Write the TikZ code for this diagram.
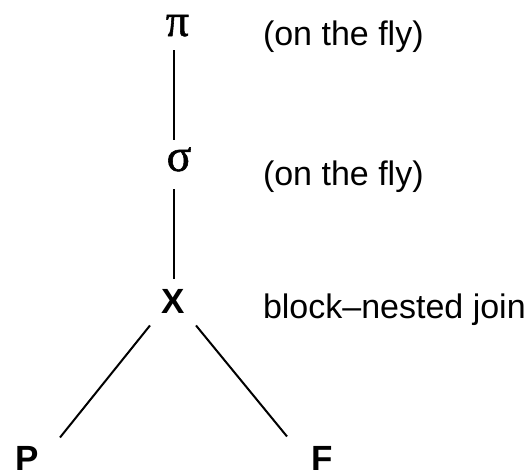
\documentclass[tikz,border=0pt]{standalone}
\usepackage{fontspec}
\setmainfont{Liberation Sans}
\newfontfamily\greekfont[FakeBold=1.2]{Liberation Serif}
\begin{document}
\begin{tikzpicture}[x=1pt,y=-1pt,
  greek/.style={inner sep=0pt, outer sep=0pt, anchor=base, font=\greekfont\fontsize{46}{46}\selectfont},
  rel/.style={inner sep=0pt, outer sep=0pt, anchor=base, font=\bfseries\fontsize{35}{35}\selectfont},
  note/.style={inner sep=0pt, outer sep=0pt, anchor=base west, font=\fontsize{34}{34}\selectfont},
  edge/.style={line width=2pt}]
\useasboundingbox (0,0) rectangle (529,475);
\node[greek] (pi) at (177.5,36) {π};
\node[greek] (sigma) at (179,171) {σ};
\node[rel] (X) at (173.5,313) {X};
\node[rel] (P) at (27.5,470) {P};
\node[rel] (F) at (322,470) {F};
\node[note] (n1) at (263,45) {(on the fly)};
\node[note] (n2) at (263,185) {(on the fly)};
\node[note] (n3) at (263,318) {block–nested join};
\draw[edge, shorten <=14pt, shorten >=7pt] (pi.south -| X) -- (sigma.north -| X);
\draw[edge, shorten <=18pt, shorten >=10pt] (sigma.south -| X) -- (X.north);
\draw[edge] ([shift={(-23.5,24.5)}]X.center) -- ([shift={(32.5,-20.5)}]P.center);
\draw[edge] ([shift={(22.5,24.5)}]X.center) -- ([shift={(-35,-21.5)}]F.center);
\end{tikzpicture}
\end{document}
